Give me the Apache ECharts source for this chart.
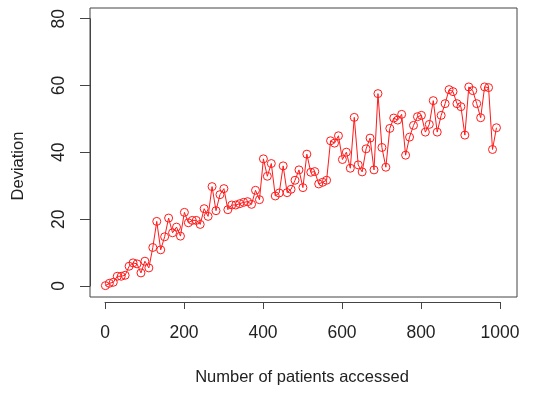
<!DOCTYPE html>
<html>
<head>
<meta charset="utf-8">
<script src="https://cdn.jsdelivr.net/npm/echarts@6/dist/echarts.min.js"></script>
<style>
html,body{margin:0;padding:0;background:#fff;}
#c{width:538px;height:395px;}
</style>
</head>
<body>
<div id="c"></div>
<script>
const patients = [1,11,21,31,41,51,61,71,81,91,101,111,121,131,141,151,161,171,181,191,201,211,221,231,241,251,261,271,281,291,301,311,321,331,341,351,361,371,381,391,401,411,421,431,441,451,461,471,481,491,501,511,521,531,541,551,561,571,581,591,601,611,621,631,641,651,661,671,681,691,701,711,721,731,741,751,761,771,781,791,801,811,821,831,841,851,861,871,881,891,901,911,921,931,941,951,961,971,981,991];
const deviation = [0.2,0.9,1.2,3.0,3.0,3.3,6.0,7.0,6.7,4.0,
  7.5,5.5,11.6,19.4,10.9,14.8,20.4,16.0,17.7,15.0,
  22.1,19.0,19.7,19.7,18.5,23.2,20.9,29.8,22.6,27.4,
  29.2,22.9,24.3,24.3,24.7,25.1,25.3,24.5,28.7,25.9,
  38.1,32.9,36.7,27.0,27.9,36.0,28.0,29.0,31.7,34.8,
  29.5,39.5,34.1,34.3,30.6,31.1,31.7,43.5,42.8,45.0,
  37.9,40.1,35.3,50.5,36.3,34.2,41.1,44.3,34.8,57.6,
  41.5,35.6,47.2,50.3,49.7,51.4,39.2,44.6,48.1,50.7,
  51.1,46.1,48.4,55.5,46.1,51.1,54.6,58.8,58.2,54.6,
  53.7,45.2,59.6,58.5,54.6,50.4,59.6,59.4,40.9,47.4];
const xTicks = {min: 0, max: 1000, interval: 200};
const yTicks = {min: 0, max: 80, interval: 20};
const xTitle = 'Number of patients accessed';
const yTitle = 'Deviation';

const FONT = '"Liberation Sans", Arial, sans-serif';
const AX = '#444';
const TXT = '#222';
const chart = echarts.init(document.getElementById('c'), null, {renderer: 'canvas'});
const pts = patients.map((p, i) => [p, deviation[i]]);
chart.setOption({
  animation: false,
  backgroundColor: '#fff',
  grid: [
    {left: 90, top: 8, width: 427, height: 289, show: true, borderColor: AX, borderWidth: 1, backgroundColor: 'transparent'},
    {left: 105, top: 0, width: 395, height: 302, show: false},
    {left: 90, top: 18.7, width: 10, height: 267.3, show: false}
  ],
  xAxis: [
    {gridIndex: 0, type: 'value', min: -38, max: 1043, show: false},
    {gridIndex: 1, type: 'value', min: xTicks.min, max: xTicks.max, interval: xTicks.interval, position: 'bottom',
      axisLine: {show: true, lineStyle: {color: AX, width: 1}},
      axisTick: {show: true, length: 7, lineStyle: {color: AX, width: 1}},
      axisLabel: {margin: 22, fontSize: 17.5, color: TXT, fontFamily: FONT, showMinLabel: true, showMaxLabel: true,
        formatter: v => String(v)},
      splitLine: {show: false}},
    {gridIndex: 2, type: 'value', show: false}
  ],
  yAxis: [
    {gridIndex: 0, type: 'value', min: -3.2, max: 83.2, show: false},
    {gridIndex: 1, type: 'value', show: false},
    {gridIndex: 2, type: 'value', min: yTicks.min, max: yTicks.max, interval: yTicks.interval, position: 'left',
      axisLine: {show: true, lineStyle: {color: AX, width: 1}},
      axisTick: {show: true, length: 10, lineStyle: {color: AX, width: 1}},
      axisLabel: {rotate: 90, margin: 22, fontSize: 17.5, color: TXT, fontFamily: FONT, showMinLabel: true, showMaxLabel: true,
        formatter: v => String(v)},
      splitLine: {show: false}}
  ],
  graphic: [
    {type: 'text', x: 302, y: 377, style: {text: xTitle, fill: TXT, font: '16.5px ' + FONT, align: 'center', verticalAlign: 'middle'}},
    {type: 'text', x: 18, y: 166, rotation: Math.PI / 2, style: {text: yTitle, fill: TXT, font: '16.5px ' + FONT, align: 'center', verticalAlign: 'middle'}}
  ],
  series: [{
    type: 'line', xAxisIndex: 0, yAxisIndex: 0, data: pts,
    symbol: 'circle', symbolSize: 8, showSymbol: true, showAllSymbol: true,
    lineStyle: {color: '#ff1a1a', width: 1},
    itemStyle: {color: 'rgba(255,0,0,0)', borderColor: '#ff1a1a', borderWidth: 1},
    emphasis: {disabled: true}, silent: true
  }]
});
</script>
</body>
</html>
